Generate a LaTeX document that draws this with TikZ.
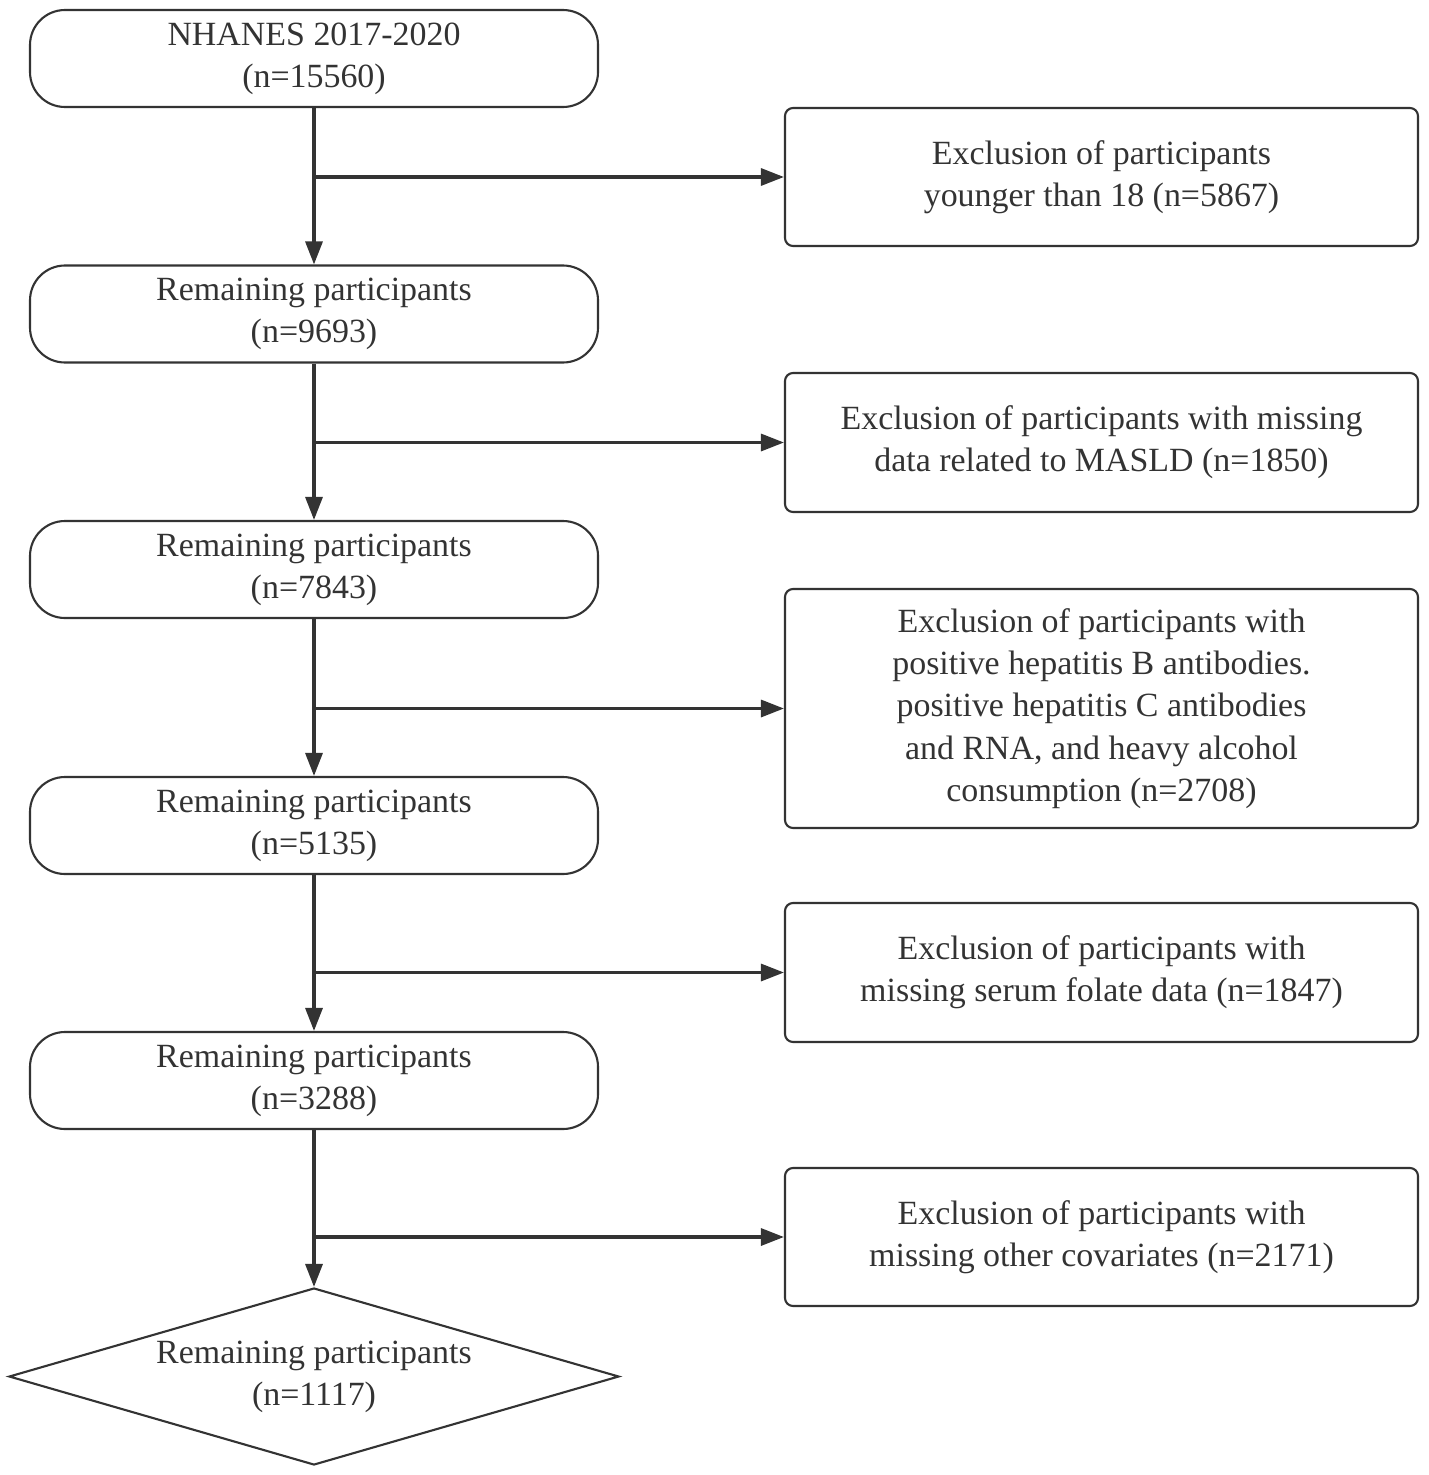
\documentclass[tikz,border=0pt]{standalone}
\usepackage{fontspec}
\setmainfont{Liberation Serif}
\usepackage{tikz}
\usetikzlibrary{arrows.meta,shapes.geometric}
\definecolor{inkgray}{HTML}{333333}
\tikzset{
	stagebox/.style={draw=inkgray, line width=1.2pt, rounded corners=0.7cm, minimum width=11.36cm, minimum height=1.94cm, align=center, text=inkgray, font=\fontsize{19.3}{24}\selectfont},
	exclbox/.style={draw=inkgray, line width=1.2pt, rounded corners=0.16cm, minimum width=12.66cm, align=center, text=inkgray, font=\fontsize{19.3}{24}\selectfont},
	finalbox/.style={draw=inkgray, line width=1.2pt, diamond, aspect=3.45, inner sep=0pt, minimum width=12.2cm, minimum height=3.54cm, align=center, text=inkgray, font=\fontsize{19.3}{24}\selectfont},
	flowarrow/.style={draw=inkgray, line width=1.8pt, -{Triangle[length=0.46cm, width=0.34cm]}}
}
\begin{document}
\begin{tikzpicture}
			%%%%% START %%%%%
			\useasboundingbox (0, 0) rectangle (28.58, -29.5);
			
			\node[stagebox] (nhanes) at (6.28, -1.17) {NHANES 2017-2020\\(n=15560)};
			\node[stagebox] (rem1) at (6.28, -6.28) {Remaining participants\\(n=9693)};
			\node[stagebox] (rem2) at (6.28, -11.39) {Remaining participants\\(n=7843)};
			\node[stagebox] (rem3) at (6.28, -16.51) {Remaining participants\\(n=5135)};
			\node[stagebox] (rem4) at (6.28, -21.61) {Remaining participants\\(n=3288)};
			\node[finalbox] (final) at (6.28, -27.53) {Remaining participants\\(n=1117)};
			
			\node[exclbox, minimum height=2.76cm] (exage) at (22.03, -3.54) {Exclusion of participants\\younger than 18 (n=5867)};
			\node[exclbox, minimum height=2.78cm] (exmasld) at (22.03, -8.85) {Exclusion of participants with missing\\data related to MASLD (n=1850)};
			\node[exclbox, minimum height=4.78cm] (exhep) at (22.03, -14.17) {Exclusion of participants with\\positive hepatitis B antibodies.\\positive hepatitis C antibodies\\and RNA, and heavy alcohol\\consumption (n=2708)};
			\node[exclbox, minimum height=2.78cm] (exfolate) at (22.03, -19.45) {Exclusion of participants with\\missing serum folate data (n=1847)};
			\node[exclbox, minimum height=2.76cm] (excov) at (22.03, -24.74) {Exclusion of participants with\\missing other covariates (n=2171)};
			
			\draw[flowarrow] (nhanes.south) -- (rem1.north);
			\draw[flowarrow] (rem1.south) -- (rem2.north);
			\draw[flowarrow] (rem2.south) -- (rem3.north);
			\draw[flowarrow] (rem3.south) -- (rem4.north);
			\draw[flowarrow] (rem4.south) -- (final.north);
			
			\draw[flowarrow] (nhanes.south |- exage.west) -- (exage.west);
			\draw[flowarrow] (rem1.south |- exmasld.west) -- (exmasld.west);
			\draw[flowarrow] (rem2.south |- exhep.west) -- (exhep.west);
			\draw[flowarrow] (rem3.south |- exfolate.west) -- (exfolate.west);
			\draw[flowarrow] (rem4.south |- excov.west) -- (excov.west);
			
			%%%%% END %%%%%
\end{tikzpicture}
\end{document}
